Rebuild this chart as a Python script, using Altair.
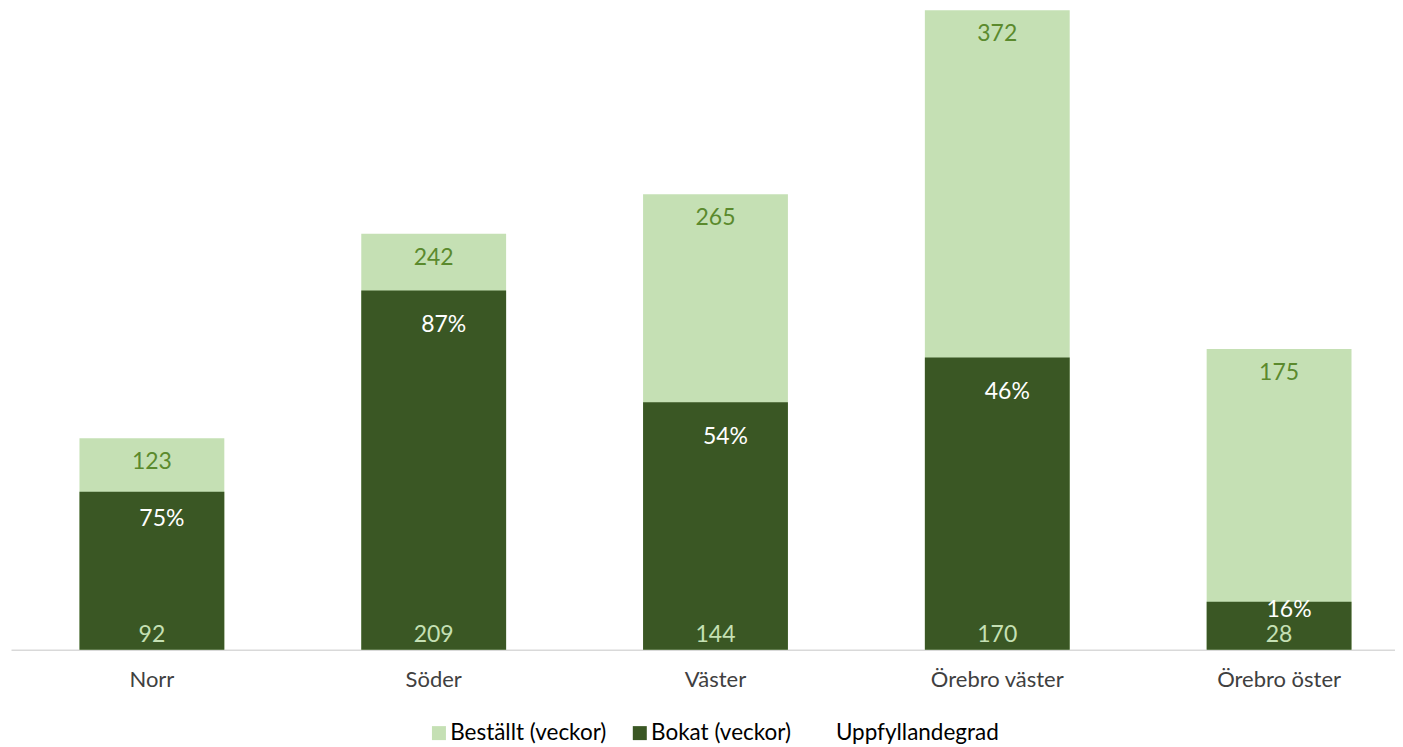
import altair as alt
import pandas as pd

categories = ["Norr", "Söder", "Väster", "Örebro väster", "Örebro öster"]
bestallt = [123, 242, 265, 372, 175]
bokat = [92, 209, 144, 170, 28]
uppfyllandegrad = [0.75, 0.87, 0.54, 0.46, 0.16]
series = ["Beställt (veckor)", "Bokat (veckor)", "Uppfyllandegrad"]

LIGHT = "#C5E0B4"
DARK = "#3A5724"
LABEL_GREEN = "#5B8A2D"
FONT = "Lato"

df = pd.DataFrame({
    "cat": categories,
    "bestallt": bestallt,
    "bokat": bokat,
    "pct": uppfyllandegrad,
    "s1": series[0],
    "s2": series[1],
    "zero": 0,
})

x = alt.X("cat:N", sort=categories, title=None,
          scale=alt.Scale(paddingInner=0.486, paddingOuter=0.243, range=[0, 1410]),
          axis=alt.Axis(labelAngle=0, ticks=False, labelPadding=20, labelFontSize=22,
                        labelColor="#404040", labelFont=FONT, domainColor="#D9D9D9",
                        domainWidth=1.5, grid=False))
yscale = alt.Scale(domain=[0, 372], nice=False, zero=True)

color = alt.Color("series:N", scale=alt.Scale(domain=series, range=[LIGHT, DARK, "transparent"]),
                  legend=alt.Legend(title=None, orient="none", direction="horizontal",
                                    legendX=417, legendY=712, symbolType="square",
                                    symbolSize=196, symbolStrokeWidth=0, labelFontSize=22.5,
                                    labelFont=FONT, labelColor="#000000", labelOffset=0,
                                    labelLimit=400, columnPadding=22, symbolOpacity=1))

base = alt.Chart(df)

bar1 = base.transform_calculate(series="datum.s1").mark_bar().encode(
    x=x,
    y=alt.Y("bestallt:Q", scale=yscale, axis=None),
    color=color,
)
bar2 = base.transform_calculate(series="datum.s2").mark_bar().encode(
    x=x,
    y=alt.Y("bokat:Q", scale=yscale, axis=None),
    color=color,
)

t1 = base.mark_text(font=FONT, fontSize=23, color=LABEL_GREEN, baseline="middle", dy=24).encode(
    x=x, y=alt.Y("bestallt:Q", scale=yscale, axis=None), text=alt.Text("bestallt:Q"))
t2 = base.mark_text(font=FONT, fontSize=23, color=LIGHT, baseline="middle", dy=-15).encode(
    x=x, y=alt.Y("zero:Q", scale=yscale, axis=None), text=alt.Text("bokat:Q"))
t3 = base.transform_calculate(
    pos="datum.bokat - min(20, datum.bokat * 0.17)"
).mark_text(font=FONT, fontSize=23, color="#FFFFFF", baseline="middle", dx=10).encode(
    x=x, y=alt.Y("pos:Q", scale=yscale, axis=None), text=alt.Text("pct:Q", format=".0%"))

chart = alt.layer(bar1, bar2, t1, t2, t3).properties(
    width=1385, height=640,
    autosize=alt.AutoSizeParams(type="none"),
    padding={"left": 3, "top": 2, "right": 0, "bottom": 96},
).configure(font=FONT, view={"stroke": None})

chart.save("out.html", embed_options={"renderer": "svg", "actions": False})
